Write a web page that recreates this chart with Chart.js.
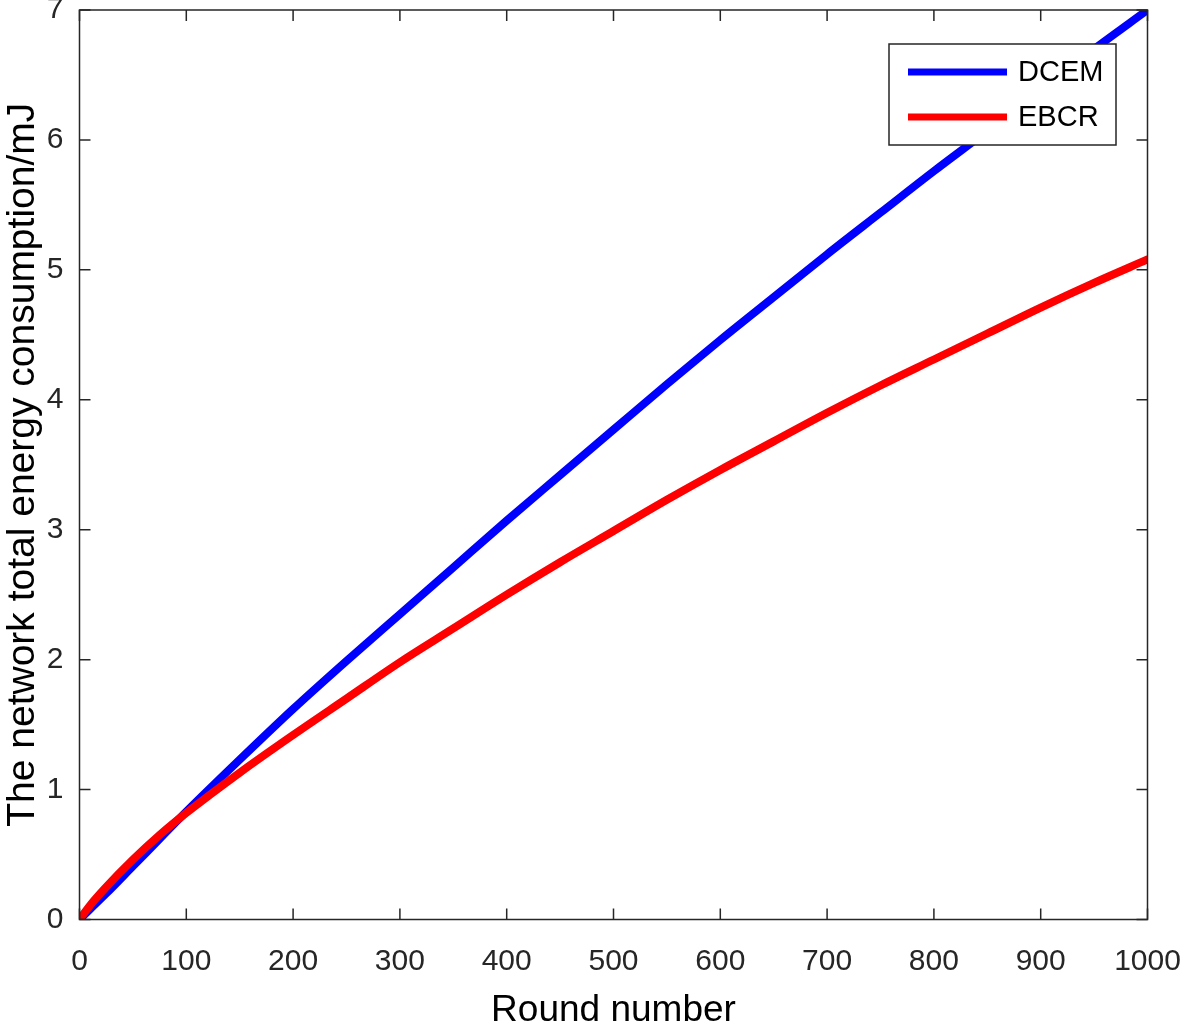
<!DOCTYPE html>
<html>
<head>
<meta charset="utf-8">
<script src="https://cdn.jsdelivr.net/npm/chart.js@4"></script>
<style>
  html, body { margin: 0; padding: 0; background: #fff; }
  #wrap { width: 1181px; height: 1024px; }
</style>
</head>
<body>
<div id="wrap"><canvas id="energy-chart"></canvas></div>
<script>
// rounds on the x axis
const rounds = [0, 10, 25, 50, 75, 100, 150, 200, 250, 300, 350, 400, 450, 500,
                550, 600, 650, 700, 750, 800, 850, 900, 950, 1000];
// total energy consumption (mJ)
const dcem = [0, 0.08, 0.20, 0.41, 0.62, 0.83, 1.23, 1.62, 1.99, 2.35, 2.71, 3.07, 3.42, 3.77,
              4.12, 4.46, 4.79, 5.12, 5.44, 5.76, 6.07, 6.39, 6.70, 7.00];
const ebcr = [0, 0.11, 0.25, 0.46, 0.65, 0.82, 1.13, 1.42, 1.70, 1.98, 2.24, 2.50, 2.75, 2.99,
              3.23, 3.46, 3.68, 3.90, 4.11, 4.31, 4.51, 4.71, 4.90, 5.08];
const seriesNames = ["DCEM", "EBCR"];
const xTitle = "Round number";
const yTitle = "The network total energy consumption/mJ";

const FONT = "'Liberation Sans', Arial, Helvetica, sans-serif";
const AXIS = "#262626";

function toPoints(ys) {
    return rounds.map((r, i) => ({ x: r, y: ys[i] }));
}

// box around the plot with inward ticks on all four sides
const boxPlugin = {
    id: "box",
    afterDraw(chart) {
        const ctx = chart.ctx;
        const a = chart.chartArea;
        const xs = chart.scales.x, ys = chart.scales.y;
        const len = 11;
        ctx.save();
        ctx.strokeStyle = AXIS;
        ctx.lineWidth = 1.5;
        ctx.strokeRect(a.left, a.top, a.right - a.left, a.bottom - a.top);
        ctx.beginPath();
        xs.ticks.forEach(t => {
            const px = xs.getPixelForValue(t.value);
            ctx.moveTo(px, a.bottom); ctx.lineTo(px, a.bottom - len);
            ctx.moveTo(px, a.top); ctx.lineTo(px, a.top + len);
        });
        ys.ticks.forEach(t => {
            const py = ys.getPixelForValue(t.value);
            ctx.moveTo(a.left, py); ctx.lineTo(a.left + len, py);
            ctx.moveTo(a.right, py); ctx.lineTo(a.right - len, py);
        });
        ctx.stroke();
        ctx.restore();
    }
};

// legend box inside the plot, top right
const legendPlugin = {
    id: "innerLegend",
    afterDraw(chart) {
        const ctx = chart.ctx;
        const box = { left: 889, top: 44, right: 1116, bottom: 145 };
        ctx.save();
        ctx.fillStyle = "#fff";
        ctx.fillRect(box.left, box.top, box.right - box.left, box.bottom - box.top);
        ctx.strokeStyle = AXIS;
        ctx.lineWidth = 1.5;
        ctx.strokeRect(box.left, box.top, box.right - box.left, box.bottom - box.top);
        ctx.font = "29px " + FONT;
        ctx.textBaseline = "middle";
        const rows = [72, 117];
        seriesNames.forEach((name, i) => {
            const ds = chart.data.datasets.find(d => d.label === name);
            ctx.strokeStyle = ds.borderColor;
            ctx.lineWidth = 7;
            ctx.beginPath();
            ctx.moveTo(908, rows[i]);
            ctx.lineTo(1007, rows[i]);
            ctx.stroke();
            ctx.fillStyle = "#000";
            ctx.fillText(name, 1018, rows[i] + 1);
        });
        ctx.restore();
    }
};

new Chart(document.getElementById("energy-chart"), {
    type: "line",
    data: {
        datasets: [
            {
                label: seriesNames[0],
                data: toPoints(dcem),
                borderColor: "#0000ff",
                borderWidth: 8,
                borderCapStyle: "round",
                pointRadius: 0,
                cubicInterpolationMode: "monotone",
                order: 1
            },
            {
                label: seriesNames[1],
                data: toPoints(ebcr),
                borderColor: "#ff0000",
                borderWidth: 8,
                borderCapStyle: "round",
                pointRadius: 0,
                cubicInterpolationMode: "monotone",
                order: 0
            }
        ]
    },
    options: {
        responsive: true,
        maintainAspectRatio: false,
        animation: false,
        layout: { padding: { top: 10, right: 33.5, left: 0, bottom: 0 } },
        plugins: {
            legend: { display: false },
            tooltip: { enabled: false }
        },
        scales: {
            x: {
                type: "linear",
                min: 0,
                max: 1000,
                afterFit(scale) {
                    scale.height = 104.5;
                    scale.paddingLeft = 0;
                    scale.paddingRight = 0;
                },
                border: { display: false },
                grid: { display: false, drawTicks: false },
                ticks: {
                    stepSize: 100,
                    padding: 24,
                    color: AXIS,
                    font: { family: FONT, size: 30 },
                    callback: v => String(v)
                },
                title: {
                    display: true,
                    text: xTitle,
                    color: "#000",
                    padding: { top: 0, bottom: -9 },
                    font: { family: FONT, size: 37 }
                }
            },
            y: {
                min: 0,
                max: 7,
                afterFit(scale) {
                    scale.width = 79.5;
                    scale.paddingTop = 0;
                    scale.paddingBottom = 0;
                },
                border: { display: false },
                grid: { display: false, drawTicks: false },
                ticks: {
                    stepSize: 1,
                    padding: 16,
                    color: AXIS,
                    font: { family: FONT, size: 30 },
                    callback: v => String(v)
                },
                title: {
                    display: true,
                    text: yTitle,
                    color: "#000",
                    padding: { top: 0, bottom: 0 },
                    font: { family: FONT, size: 39 }
                }
            }
        }
    },
    plugins: [boxPlugin, legendPlugin]
});
</script>
</body>
</html>
